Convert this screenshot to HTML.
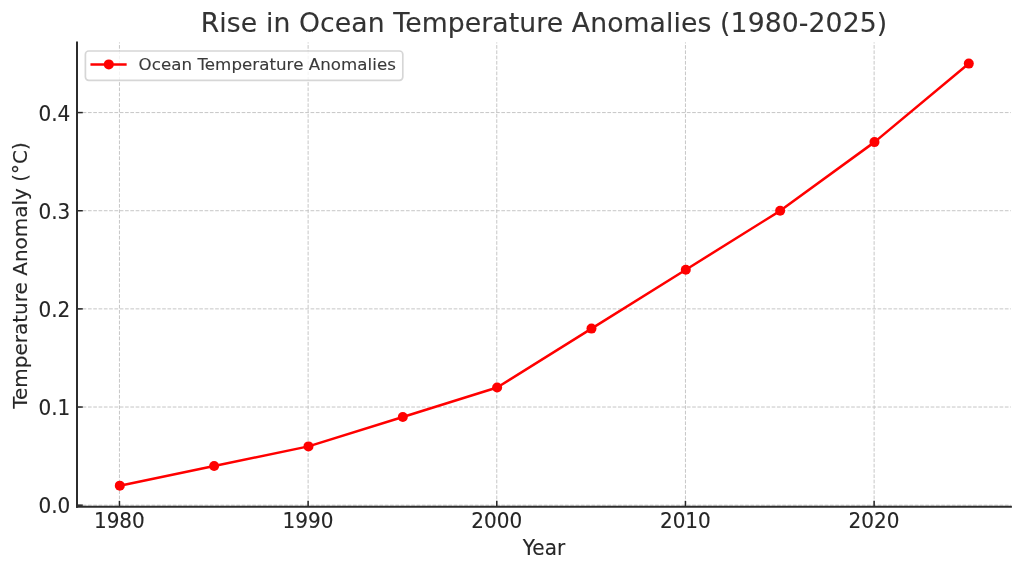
<!DOCTYPE html>
<html lang="en">
<head>
<meta charset="utf-8">
<title>Rise in Ocean Temperature Anomalies (1980-2025)</title>
<style>
html,body{margin:0;padding:0;background:#fff;}
body{width:1023px;height:571px;overflow:hidden;}
svg{display:block;}
svg text{font-family:"DejaVu Sans","Liberation Sans",sans-serif;fill:#262626;stroke:#262626;stroke-width:0.12px;}
svg text.lt{fill:#333333;stroke:#333333;}
svg text.lg{fill:#3a3a3a;stroke:#3a3a3a;}
</style>
</head>
<body>
<svg width="1023" height="571" viewBox="0 0 1023 571">
<rect x="0" y="0" width="1023" height="571" fill="#ffffff"/>
<g stroke="#c6c6c6" stroke-width="1" stroke-dasharray="3.7 1.6" fill="none" stroke-opacity="1">
<line x1="119.45" y1="506.65" x2="119.45" y2="42.40" stroke-dashoffset="-2.1"/>
<line x1="308.12" y1="506.65" x2="308.12" y2="42.40" stroke-dashoffset="-2.1"/>
<line x1="496.78" y1="506.65" x2="496.78" y2="42.40" stroke-dashoffset="-2.1"/>
<line x1="685.45" y1="506.65" x2="685.45" y2="42.40" stroke-dashoffset="-2.1"/>
<line x1="874.12" y1="506.65" x2="874.12" y2="42.40" stroke-dashoffset="-2.1"/>
<line x1="77.00" y1="505.18" x2="1010.90" y2="505.18" stroke-dashoffset="-0.35"/>
<line x1="77.00" y1="407.03" x2="1010.90" y2="407.03" stroke-dashoffset="-0.35"/>
<line x1="77.00" y1="308.88" x2="1010.90" y2="308.88" stroke-dashoffset="-0.35"/>
<line x1="77.00" y1="210.73" x2="1010.90" y2="210.73" stroke-dashoffset="-0.35"/>
<line x1="77.00" y1="112.58" x2="1010.90" y2="112.58" stroke-dashoffset="-0.35"/>
</g>
<g stroke="#262626" stroke-width="1.5" fill="none">
<line x1="119.45" y1="506.65" x2="119.45" y2="500.85"/>
<line x1="308.12" y1="506.65" x2="308.12" y2="500.85"/>
<line x1="496.78" y1="506.65" x2="496.78" y2="500.85"/>
<line x1="685.45" y1="506.65" x2="685.45" y2="500.85"/>
<line x1="874.12" y1="506.65" x2="874.12" y2="500.85"/>
<line x1="77.00" y1="505.18" x2="82.80" y2="505.18"/>
<line x1="77.00" y1="407.03" x2="82.80" y2="407.03"/>
<line x1="77.00" y1="308.88" x2="82.80" y2="308.88"/>
<line x1="77.00" y1="210.73" x2="82.80" y2="210.73"/>
<line x1="77.00" y1="112.58" x2="82.80" y2="112.58"/>
</g>
<polyline points="119.80,485.65 214.13,466.02 308.47,446.39 402.80,416.94 497.13,387.50 591.47,328.61 685.80,269.72 780.13,210.83 874.47,142.12 968.80,63.60" fill="none" stroke="#ff0000" stroke-width="2.5" stroke-linejoin="round" stroke-linecap="square"/>
<g fill="#ff0000">
<circle cx="119.80" cy="485.65" r="5"/>
<circle cx="214.13" cy="466.02" r="5"/>
<circle cx="308.47" cy="446.39" r="5"/>
<circle cx="402.80" cy="416.94" r="5"/>
<circle cx="497.13" cy="387.50" r="5"/>
<circle cx="591.47" cy="328.61" r="5"/>
<circle cx="685.80" cy="269.72" r="5"/>
<circle cx="780.13" cy="210.83" r="5"/>
<circle cx="874.47" cy="142.12" r="5"/>
<circle cx="968.80" cy="63.60" r="5"/>
</g>
<g stroke="#2c2c2c" stroke-width="2" fill="none" stroke-linecap="square">
<line x1="77.00" y1="506.65" x2="77.00" y2="42.40"/>
<line x1="77.00" y1="506.65" x2="1010.90" y2="506.65"/>
</g>
<g font-size="20px" text-anchor="middle">
<text transform="translate(119.35 528.4) scale(1 1.035)">1980</text>
<text transform="translate(308.02 528.4) scale(1 1.035)">1990</text>
<text transform="translate(496.68 528.4) scale(1 1.035)">2000</text>
<text transform="translate(685.35 528.4) scale(1 1.035)">2010</text>
<text transform="translate(874.02 528.4) scale(1 1.035)">2020</text>
</g>
<g font-size="20px" text-anchor="end">
<text transform="translate(70.3 513.18) scale(1 1.020)">0.0</text>
<text transform="translate(70.3 415.03) scale(1 1.020)">0.1</text>
<text transform="translate(70.3 316.88) scale(1 1.020)">0.2</text>
<text transform="translate(70.3 218.73) scale(1 1.020)">0.3</text>
<text transform="translate(70.3 120.58) scale(1 1.020)">0.4</text>
</g>
<text transform="translate(543.95 554.8) scale(1 1.020)" font-size="20px" text-anchor="middle">Year</text>
<text transform="translate(27.3 275.50) rotate(-90) scale(1 1.010)" font-size="20px" text-anchor="middle">Temperature Anomaly (°C)</text>
<text x="543.95" y="32.3" font-size="26.67px" text-anchor="middle" textLength="686.5" lengthAdjust="spacing" class="lt">Rise in Ocean Temperature Anomalies (1980-2025)</text>
<rect x="85.4" y="51.0" width="317.4" height="29.4" rx="3.3" ry="3.3" fill="#ffffff" fill-opacity="0.8" stroke="#cccccc" stroke-opacity="0.8" stroke-width="1.67"/>
<line x1="91.7" y1="64.4" x2="125.4" y2="64.4" stroke="#ff0000" stroke-width="2.5" stroke-linecap="square"/>
<circle cx="108.8" cy="64.4" r="5" fill="#ff0000"/>
<text x="138.6" y="70.3" font-size="16.67px" class="lg" textLength="257.3" lengthAdjust="spacing">Ocean Temperature Anomalies</text>
</svg>
</body>
</html>
